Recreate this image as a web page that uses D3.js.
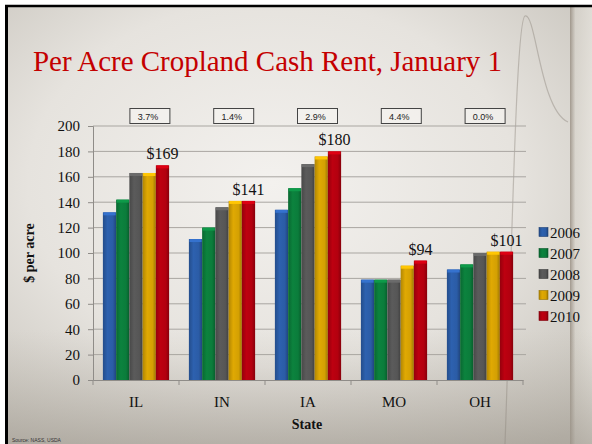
<!DOCTYPE html>
<html>
<head>
<meta charset="utf-8">
<script src="https://cdn.jsdelivr.net/npm/d3@7"></script>
<style>
  html, body { margin: 0; padding: 0; background: #fff; }
  svg { display: block; }
</style>
</head>
<body>
<svg width="592" height="444"></svg>
<script>
// chart data
var states = ["IL", "IN", "IA", "MO", "OH"];
var years = ["2006", "2007", "2008", "2009", "2010"];
var rent2006 = [132, 111, 134, 79, 87];
var rent2007 = [142, 120, 151, 79, 91];
var rent2008 = [163, 136, 170, 79, 100];
var rent2009 = [163, 141, 176, 90, 101];
var rent2010 = [169, 141, 180, 94, 101];
var changeLabels = ["3.7%", "1.4%", "2.9%", "4.4%", "0.0%"];
var yTicks = [0, 20, 40, 60, 80, 100, 120, 140, 160, 180, 200];
var colors = ["#2b5ca6", "#0b7c3b", "#565656", "#d4a003", "#b3000f"];

var series = [rent2006, rent2007, rent2008, rent2009, rent2010];

var svg = d3.select("svg"),
    width = +svg.attr("width"),
    height = +svg.attr("height");

var defs = svg.append("defs");

// slide background
var bg = defs.append("radialGradient").attr("id", "bg")
    .attr("cx", "45%").attr("cy", "40%").attr("r", "75%");
bg.append("stop").attr("offset", "0%").attr("stop-color", "#f3f1ee");
bg.append("stop").attr("offset", "55%").attr("stop-color", "#e6e3de");
bg.append("stop").attr("offset", "100%").attr("stop-color", "#c4c0b8");

var side = defs.append("linearGradient").attr("id", "side")
    .attr("x1", "0").attr("x2", "1").attr("y1", "0").attr("y2", "0");
side.append("stop").attr("offset", "0%").attr("stop-color", "#8a7f72").attr("stop-opacity", 0.7);
side.append("stop").attr("offset", "25%").attr("stop-color", "#d8d4cc").attr("stop-opacity", 0.6);
side.append("stop").attr("offset", "100%").attr("stop-color", "#ece9e3").attr("stop-opacity", 0.6);

var floor = defs.append("linearGradient").attr("id", "floor")
    .attr("x1", "0").attr("x2", "0").attr("y1", "0").attr("y2", "1");
floor.append("stop").attr("offset", "0%").attr("stop-color", "#b8b3aa").attr("stop-opacity", 0);
floor.append("stop").attr("offset", "100%").attr("stop-color", "#9d978d").attr("stop-opacity", 0.55);

// bar gradients
colors.forEach(function (c, i) {
    var g = defs.append("linearGradient").attr("id", "bar" + i)
        .attr("x1", "0").attr("x2", "1").attr("y1", "0").attr("y2", "0");
    g.append("stop").attr("offset", "0%").attr("stop-color", d3.color(c).darker(0.5));
    g.append("stop").attr("offset", "35%").attr("stop-color", d3.color(c).brighter(0.15));
    g.append("stop").attr("offset", "75%").attr("stop-color", c);
    g.append("stop").attr("offset", "100%").attr("stop-color", d3.color(c).darker(0.8));
});

svg.append("rect").attr("width", width).attr("height", height).attr("fill", "#fff");
svg.append("rect").attr("x", 6).attr("y", 6).attr("width", width).attr("height", height)
    .attr("fill", "url(#bg)");
svg.append("rect").attr("x", 570).attr("y", 6).attr("width", 22).attr("height", height)
    .attr("fill", "url(#side)");
svg.append("rect").attr("x", 6).attr("y", 330).attr("width", width).attr("height", 114)
    .attr("fill", "url(#floor)");

// faint decorative curve top right
svg.append("path")
    .attr("d", "M505,444 C512,250 516,20 525,16 C536,12 540,110 568,122")
    .attr("fill", "none").attr("stroke", "#8d877f").attr("stroke-opacity", 0.45)
    .attr("stroke-width", 1.2);

// frame
svg.append("line").attr("x1", 5).attr("x2", width).attr("y1", 6).attr("y2", 6)
    .attr("stroke", "#000").attr("stroke-width", 2.5);
svg.append("line").attr("x1", 6.5).attr("x2", 6.5).attr("y1", 5).attr("y2", height)
    .attr("stroke", "#000").attr("stroke-width", 3);

// title
svg.append("text")
    .attr("x", 33).attr("y", 71)
    .attr("font-family", "Liberation Serif, Times New Roman, serif")
    .attr("font-size", 30)
    .attr("textLength", 469)
    .attr("lengthAdjust", "spacingAndGlyphs")
    .attr("fill", "#c40000")
    .text("Per Acre Cropland Cash Rent, January 1");

// scales
var margin = { left: 93, right: 523, top: 126, bottom: 380 };

var x = d3.scaleBand().domain(states)
    .range([margin.left, margin.right])
    .paddingInner(0.23).paddingOuter(0.115);

var xYear = d3.scaleBand().domain(years).range([0, x.bandwidth()]);

var y = d3.scaleLinear().domain([0, 200]).range([margin.bottom, margin.top]);

var xBox = d3.scaleBand().domain(states).range([108, 527]);

var serif = "Liberation Serif, Times New Roman, serif";

// gridlines
svg.append("g")
    .selectAll("line")
    .data(yTicks.slice(1))
    .enter().append("line")
    .attr("x1", margin.left).attr("x2", margin.right + 3)
    .attr("y1", d => y(d)).attr("y2", d => y(d))
    .attr("stroke", "#a9a6a1").attr("stroke-width", 1);

// y axis
var yAxis = svg.append("g")
    .attr("transform", "translate(" + margin.left + ",0)")
    .call(d3.axisLeft(y).tickValues(yTicks).tickSize(5).tickPadding(8));
yAxis.select(".domain").attr("stroke", "#8f8c88");
yAxis.selectAll(".tick line").attr("stroke", "#8f8c88");
yAxis.selectAll(".tick text")
    .attr("font-family", serif).attr("font-size", 15).attr("fill", "#111");

// x axis
var xAxis = svg.append("g")
    .attr("transform", "translate(0," + margin.bottom + ")")
    .call(d3.axisBottom(x).tickSize(0).tickPadding(16));
xAxis.select(".domain").attr("stroke", "#8f8c88");
xAxis.selectAll(".tick text")
    .attr("font-family", serif).attr("font-size", 15).attr("fill", "#111");

// x axis separators
svg.append("g")
    .selectAll("line")
    .data(d3.range(states.length + 1))
    .enter().append("line")
    .attr("x1", d => margin.left + d * x.step()).attr("x2", d => margin.left + d * x.step())
    .attr("y1", margin.bottom).attr("y2", margin.bottom + 5)
    .attr("stroke", "#8f8c88");

// bars
var groups = svg.append("g")
    .selectAll("g")
    .data(states)
    .enter().append("g")
    .attr("transform", d => "translate(" + x(d) + ",0)");

groups.selectAll("rect.bar")
    .data((d, i) => years.map((yr, j) => ({ year: yr, j: j, value: series[j][i] })))
    .enter().append("rect")
    .attr("class", "bar")
    .attr("x", d => xYear(d.year))
    .attr("y", d => y(d.value))
    .attr("width", xYear.bandwidth())
    .attr("height", d => y(0) - y(d.value))
    .attr("fill", d => "url(#bar" + d.j + ")");

// bevelled top caps
groups.selectAll("rect.cap")
    .data((d, i) => years.map((yr, j) => ({ year: yr, j: j, value: series[j][i] })))
    .enter().append("rect")
    .attr("class", "cap")
    .attr("x", d => xYear(d.year) + 0.5)
    .attr("y", d => y(d.value))
    .attr("width", xYear.bandwidth() - 1)
    .attr("height", 3)
    .attr("fill", d => d3.color(colors[d.j]).brighter(0.6));

// value labels above the 2010 bar
svg.append("g")
    .selectAll("text")
    .data(states)
    .enter().append("text")
    .attr("x", d => x(d) + xYear("2010") + xYear.bandwidth() / 2)
    .attr("y", (d, i) => y(rent2010[i]) - 6)
    .attr("text-anchor", "middle")
    .attr("font-family", serif).attr("font-size", 16).attr("fill", "#111")
    .text((d, i) => "$" + rent2010[i]);

// percent change boxes
var boxes = svg.append("g")
    .selectAll("g")
    .data(states)
    .enter().append("g")
    .attr("transform", d => "translate(" + (xBox(d) + xBox.bandwidth() / 2) + ",0)");
boxes.append("rect")
    .attr("x", -20).attr("y", 108.5).attr("width", 40).attr("height", 15)
    .attr("fill", "#f6f5f2").attr("fill-opacity", 0.6)
    .attr("stroke", "#444").attr("stroke-width", 1);
boxes.append("text")
    .attr("x", -2).attr("y", 119.5)
    .attr("text-anchor", "middle")
    .attr("font-family", "Liberation Sans, Arial, sans-serif")
    .attr("font-size", 9).attr("fill", "#222")
    .text((d, i) => changeLabels[i]);

// axis titles
svg.append("text")
    .attr("transform", "translate(34,253) rotate(-90)")
    .attr("text-anchor", "middle")
    .attr("font-family", serif).attr("font-weight", "bold")
    .attr("font-size", 14).attr("fill", "#111")
    .text("$ per acre");

svg.append("text")
    .attr("x", 307).attr("y", 429)
    .attr("text-anchor", "middle")
    .attr("font-family", serif).attr("font-weight", "bold")
    .attr("font-size", 14).attr("fill", "#111")
    .text("State");

// legend
var legend = svg.append("g")
    .selectAll("g")
    .data(years)
    .enter().append("g")
    .attr("transform", (d, i) => "translate(539," + (232 + i * 21) + ")");
legend.append("rect")
    .attr("x", 0).attr("y", -4.5).attr("width", 9).attr("height", 9)
    .attr("fill", (d, i) => "url(#bar" + i + ")")
    .attr("stroke", (d, i) => d3.color(colors[i]).darker(1)).attr("stroke-width", 0.6);
legend.append("text")
    .attr("x", 11).attr("y", 5.5)
    .attr("font-family", serif).attr("font-size", 15).attr("fill", "#111")
    .text(d => d);

// source note
svg.append("text")
    .attr("x", 12).attr("y", 442)
    .attr("font-family", "Liberation Sans, Arial, sans-serif")
    .attr("font-size", 5).attr("fill", "#333")
    .text("Source: NASS, USDA");
</script>
</body>
</html>
